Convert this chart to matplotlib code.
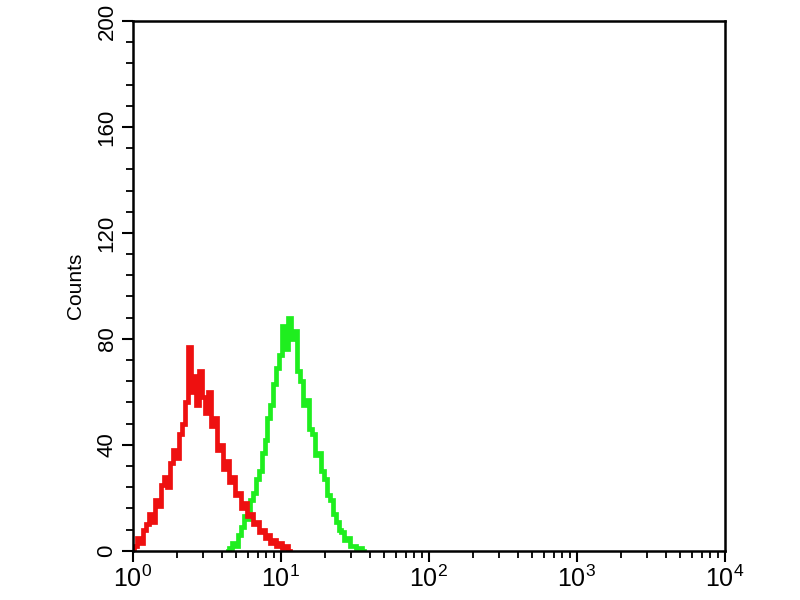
import numpy as np
import matplotlib
matplotlib.use("Agg")
import matplotlib.pyplot as plt
from matplotlib.ticker import FixedLocator, LogLocator, NullFormatter

# ---- data (log10 fluorescence bin centres and counts) ----
red_log = [0.00, 0.02, 0.04, 0.06, 0.08, 0.10, 0.12, 0.14, 0.16, 0.18,
           0.20, 0.22, 0.24, 0.26, 0.28, 0.30, 0.32, 0.34, 0.36, 0.38,
           0.40, 0.42, 0.44, 0.46, 0.48, 0.50, 0.52, 0.54, 0.56, 0.58,
           0.60, 0.62, 0.64, 0.66, 0.68, 0.70, 0.72, 0.74, 0.76, 0.78,
           0.80, 0.82, 0.84, 0.86, 0.88, 0.90, 0.92, 0.94, 0.96, 0.98,
           1.00, 1.02, 1.04, 1.06]
red_counts = [0, 2, 5, 3, 8, 10, 14, 11, 19, 17,
              25, 28, 24, 33, 38, 35, 44, 48, 56, 77,
              60, 66, 55, 68, 58, 52, 60, 47, 50, 38,
              40, 31, 34, 26, 28, 21, 22, 16, 18, 13,
              14, 10, 11, 7, 8, 5, 6, 3, 4, 2,
              3, 1, 2, 0]

green_log = [0.64, 0.66, 0.68, 0.70, 0.72, 0.74, 0.76, 0.78, 0.80, 0.82,
             0.84, 0.86, 0.88, 0.90, 0.92, 0.94, 0.96, 0.98, 1.00, 1.02,
             1.04, 1.06, 1.08, 1.10, 1.12, 1.14, 1.16, 1.18, 1.20, 1.22,
             1.24, 1.26, 1.28, 1.30, 1.32, 1.34, 1.36, 1.38, 1.40, 1.42,
             1.44, 1.46, 1.48, 1.50, 1.52, 1.54, 1.56]
green_counts = [0, 1, 3, 2, 6, 9, 13, 12, 19, 22,
                27, 30, 37, 42, 50, 55, 63, 69, 74, 85,
                76, 88, 80, 83, 68, 64, 55, 57, 46, 44,
                36, 37, 30, 27, 21, 19, 14, 11, 8, 7,
                4, 5, 2, 2, 1, 1, 0]

y_ticks = [0, 40, 80, 120, 160, 200]
x_ticks = [1, 10, 100, 1000, 10000]
x_tick_labels = [r"$10^{0}$", r"$10^{1}$", r"$10^{2}$", r"$10^{3}$", r"$10^{4}$"]

plt.rcParams['font.family'] = ['Liberation Sans', 'DejaVu Sans']
plt.rcParams['mathtext.fontset'] = 'custom'
plt.rcParams['mathtext.rm'] = 'Liberation Sans'
plt.rcParams['mathtext.it'] = 'Liberation Sans'

fig = plt.figure(figsize=(8, 6), dpi=100)
ax = fig.add_axes([0.166, 0.082, 0.740, 0.883])

ax.plot(10 ** np.array(green_log), green_counts, drawstyle='steps-mid',
        color='#1fee1f', lw=3.4, solid_joinstyle='miter')
ax.plot(10 ** np.array(red_log), red_counts, drawstyle='steps-mid',
        color='#ee1010', lw=3.4, solid_joinstyle='miter')

ax.set_xscale('log')
ax.set_xlim(1, 10000)
ax.set_ylim(0, 200)

ax.xaxis.set_major_locator(FixedLocator(x_ticks))
ax.set_xticklabels(x_tick_labels, fontsize=18)
ax.xaxis.set_minor_locator(LogLocator(base=10, subs=np.arange(2, 10)))
ax.xaxis.set_minor_formatter(NullFormatter())

ax.set_yticks(y_ticks)
ax.set_yticklabels([str(v) for v in y_ticks], fontsize=16, rotation=90, va='center')
ax.yaxis.set_minor_locator(FixedLocator(np.arange(0, 201, 8)))

ax.tick_params(axis='both', which='major', direction='out', length=8, width=1.5, color='black')
ax.tick_params(axis='both', which='minor', direction='out', length=5, width=1.3, color='black')
ax.tick_params(axis='x', which='major', pad=3)
ax.tick_params(axis='y', which='major', pad=3)
ax.tick_params(top=False, right=False)

for s in ax.spines.values():
    s.set_linewidth(1.8)
    s.set_color('black')

ax.set_ylabel('Counts', fontsize=15, labelpad=8)

fig.savefig('out.png', dpi=100, facecolor='white')
